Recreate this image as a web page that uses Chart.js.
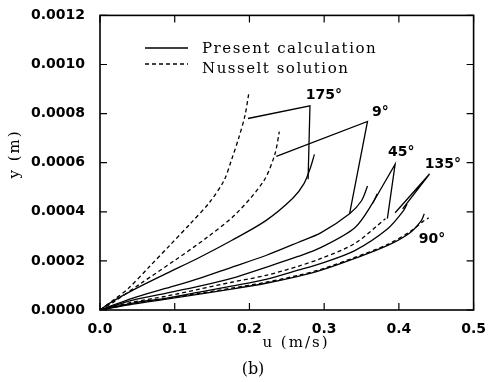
<!DOCTYPE html>
<html>
<head>
<meta charset="utf-8">
<script src="https://cdn.jsdelivr.net/npm/chart.js@4.4.1/dist/chart.umd.min.js"></script>
<style>
  html, body { margin: 0; padding: 0; background: #fff; }
</style>
</head>
<body>
<canvas id="chart" width="489" height="382"></canvas>
<script>
// tick labels
const xTickLabels = ["0.0", "0.1", "0.2", "0.3", "0.4", "0.5"];
const yTickLabels = ["0.0000", "0.0002", "0.0004", "0.0006", "0.0008", "0.0010", "0.0012"];
const legendLabels = ["Present calculation", "Nusselt solution"];

// present calculation (solid) profiles, u in m/s, y in m
const u175 = [0, 0.013, 0.044, 0.089, 0.133, 0.176, 0.222, 0.258, 0.273, 0.281, 0.287];
const y175 = [0, 0.000028, 0.000081, 0.000149, 0.000214, 0.000283, 0.000364, 0.000455, 0.000515, 0.000574, 0.000634];
const u9 = [0, 0.044, 0.089, 0.133, 0.176, 0.222, 0.265, 0.296, 0.334, 0.350, 0.358];
const y9 = [0, 0.0000485, 0.0000889, 0.000129, 0.000174, 0.000222, 0.000275, 0.000315, 0.000392, 0.000445, 0.000505];
const u45 = [0, 0.044, 0.089, 0.133, 0.176, 0.222, 0.265, 0.296, 0.341, 0.365, 0.371];
const y45 = [0, 0.0000404, 0.0000687, 0.000097, 0.000129, 0.000174, 0.000218, 0.000255, 0.000335, 0.000436, 0.000473];
const u135 = [0, 0.044, 0.089, 0.133, 0.176, 0.222, 0.265, 0.296, 0.341, 0.385, 0.406, 0.411];
const y135 = [0, 0.0000283, 0.0000485, 0.0000727, 0.000097, 0.000125, 0.000162, 0.00019, 0.000242, 0.000331, 0.000404, 0.000432];
const u90 = [0, 0.044, 0.089, 0.133, 0.176, 0.222, 0.265, 0.296, 0.341, 0.385, 0.415, 0.430, 0.434];
const y90 = [0, 0.0000242, 0.0000444, 0.0000646, 0.0000848, 0.000109, 0.000137, 0.000162, 0.00021, 0.000263, 0.000315, 0.000364, 0.000392];

// Nusselt solution (dashed)
const uN1 = [0, 0.0197, 0.038, 0.066, 0.0936, 0.121, 0.147, 0.166, 0.1765, 0.186, 0.194, 0.199];
const yN1 = [0, 0.000044, 0.000088, 0.000176, 0.000264, 0.000352, 0.00044, 0.000528, 0.000616, 0.000704, 0.000792, 0.00088];
const uN2 = [0, 0.018, 0.055, 0.100, 0.143, 0.182, 0.219, 0.234, 0.240];
const yN2 = [0, 0.000032, 0.000109, 0.000202, 0.000295, 0.000392, 0.000525, 0.000634, 0.000727];
const uN3 = [0, 0.044, 0.089, 0.133, 0.176, 0.222, 0.265, 0.296, 0.341, 0.382];
const yN3 = [0, 0.0000323, 0.0000566, 0.0000848, 0.000113, 0.000141, 0.000178, 0.00021, 0.000271, 0.000372];
const uN4 = [0, 0.044, 0.089, 0.133, 0.176, 0.222, 0.265, 0.296, 0.341, 0.385, 0.415, 0.432, 0.440];
const yN4 = [0, 0.000026, 0.000047, 0.000068, 0.000089, 0.000113, 0.000141, 0.000166, 0.000214, 0.000267, 0.000319, 0.00036, 0.000376];

// leader lines from the angle labels
const uL175 = [0.198, 0.281, 0.2785];
const yL175 = [0.00078, 0.000832, 0.000533];
const uL9 = [0.236, 0.358, 0.334];
const yL9 = [0.000626, 0.000768, 0.000392];
const uL45 = [0.365, 0.395, 0.3846];
const yL45 = [0.000436, 0.000594, 0.000372];
const uL135 = [0.395, 0.441, 0.405];
const yL135 = [0.000396, 0.000554, 0.000412];

// angle labels
const angleText = ["175°", "9°", "45°", "135°", "90°"];
const angleU = [0.2997, 0.3753, 0.4032, 0.4589, 0.4443];
const angleY = [0.000875, 0.000804, 0.000642, 0.000594, 0.000287];

const pts = (us, ys) => us.map((u, i) => ({ x: u, y: ys[i] }));

const curves = [[u175, y175], [u9, y9], [u45, y45], [u135, y135], [u90, y90]];
const leaders = [[uL175, yL175], [uL9, yL9], [uL45, yL45], [uL135, yL135]];
const nusselt = [[uN1, yN1], [uN2, yN2], [uN3, yN3], [uN4, yN4]];

const datasets = [];
curves.forEach(([u, y]) => datasets.push({
    data: pts(u, y), showLine: true, pointRadius: 0,
    borderColor: "#000", borderWidth: 1.3, tension: 0.3,
}));
leaders.forEach(([u, y]) => datasets.push({
    data: pts(u, y), showLine: true, pointRadius: 0,
    borderColor: "#000", borderWidth: 1.3, tension: 0,
}));
nusselt.forEach(([u, y]) => datasets.push({
    data: pts(u, y), showLine: true, pointRadius: 0,
    borderColor: "#000", borderWidth: 1.3, borderDash: [4, 3], tension: 0.3,
}));

const decor = {
    id: "decor",
    afterDraw: (chart) => {
        const { ctx, chartArea: a, scales } = chart;
        const sx = scales.x, sy = scales.y;
        ctx.save();
        ctx.strokeStyle = "#000";
        ctx.lineWidth = 1.6;
        ctx.strokeRect(a.left, a.top, a.right - a.left, a.bottom - a.top);

        // inward ticks on all four sides
        ctx.lineWidth = 1.2;
        ctx.beginPath();
        sx.ticks.forEach((t) => {
            const p = sx.getPixelForValue(t.value);
            ctx.moveTo(p, a.bottom); ctx.lineTo(p, a.bottom - 7);
            ctx.moveTo(p, a.top); ctx.lineTo(p, a.top + 7);
        });
        sy.ticks.forEach((t) => {
            const p = sy.getPixelForValue(t.value);
            ctx.moveTo(a.left, p); ctx.lineTo(a.left + 7, p);
            ctx.moveTo(a.right, p); ctx.lineTo(a.right - 7, p);
        });
        ctx.stroke();

        // legend
        ctx.lineWidth = 1.3;
        ctx.beginPath();
        ctx.moveTo(145, 48); ctx.lineTo(188, 48);
        ctx.stroke();
        ctx.setLineDash([4, 3]);
        ctx.beginPath();
        ctx.moveTo(145, 64); ctx.lineTo(188, 64);
        ctx.stroke();
        ctx.setLineDash([]);
        ctx.fillStyle = "#000";
        ctx.font = "15px 'DejaVu Serif'";
        ctx.letterSpacing = "1.5px";
        ctx.textAlign = "left";
        ctx.textBaseline = "alphabetic";
        ctx.fillText(legendLabels[0], 202, 53);
        ctx.fillText(legendLabels[1], 202, 73);

        // angle labels
        ctx.letterSpacing = "0px";
        ctx.font = "bold 14px 'DejaVu Sans'";
        ctx.textAlign = "center";
        ctx.textBaseline = "middle";
        angleText.forEach((s, i) => {
            ctx.fillText(s, sx.getPixelForValue(angleU[i]), sy.getPixelForValue(angleY[i]));
        });

        // axis titles and panel tag
        ctx.font = "15px 'DejaVu Serif'";
        ctx.letterSpacing = "2px";
        ctx.fillText("u (m/s)", 296, 343);
        ctx.save();
        ctx.translate(15, 154);
        ctx.rotate(-Math.PI / 2);
        ctx.fillText("y (m)", 0, 0);
        ctx.restore();
        ctx.letterSpacing = "0px";
        ctx.font = "16px 'DejaVu Serif'";
        ctx.fillText("(b)", 253, 370);
        ctx.restore();
    },
};

new Chart(document.getElementById("chart"), {
    type: "scatter",
    data: { datasets },
    options: {
        responsive: false,
        animation: false,
        devicePixelRatio: 1,
        layout: { padding: { left: 0, top: 13, right: 12, bottom: 0 } },
        plugins: { legend: { display: false }, tooltip: { enabled: false } },
        scales: {
            x: {
                type: "linear", min: 0, max: 0.5,
                grid: { display: false }, border: { display: false },
                afterFit: (s) => { s.height = 72; },
                ticks: {
                    stepSize: 0.1, maxRotation: 0, padding: 3, color: "#000",
                    font: { family: "DejaVu Sans", weight: "bold", size: 14 },
                    callback: (v, i) => xTickLabels[i],
                },
            },
            y: {
                type: "linear", min: 0, max: 0.0012,
                grid: { display: false }, border: { display: false },
                afterFit: (s) => { s.width = 100; },
                ticks: {
                    stepSize: 0.0002, padding: 7, color: "#000",
                    font: { family: "DejaVu Sans", weight: "bold", size: 14 },
                    callback: (v, i) => yTickLabels[i],
                },
            },
        },
    },
    plugins: [decor],
});
</script>
</body>
</html>
